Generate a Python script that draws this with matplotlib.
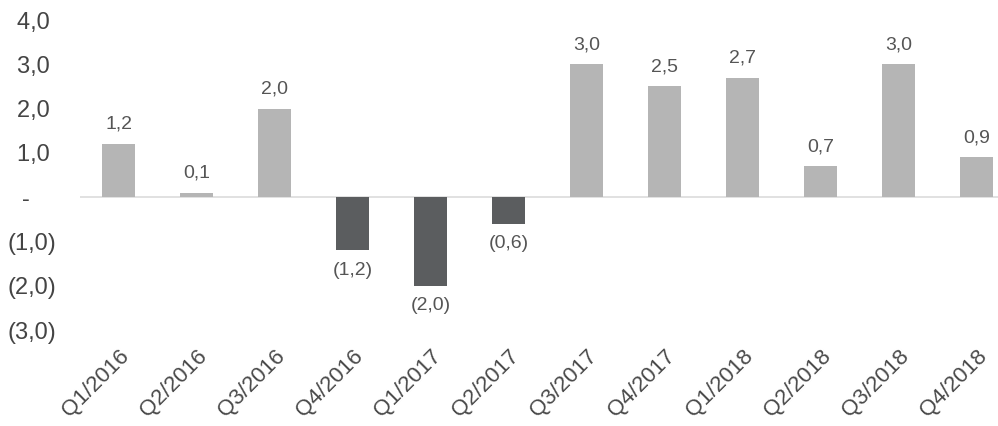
import numpy as np
import matplotlib.pyplot as plt
from matplotlib.ticker import FuncFormatter

plt.rcParams["font.family"] = ["Liberation Sans", "DejaVu Sans"]

quarters = ["Q1/2016", "Q2/2016", "Q3/2016", "Q4/2016",
            "Q1/2017", "Q2/2017", "Q3/2017", "Q4/2017",
            "Q1/2018", "Q2/2018", "Q3/2018", "Q4/2018"]
growth = [1.2, 0.1, 2.0, -1.2, -2.0, -0.6, 3.0, 2.5, 2.7, 0.7, 3.0, 0.9]
y_ticks = [-3, -2, -1, 0, 1, 2, 3, 4]


def fmt_num(v):
    if abs(v) < 1e-9:
        return "-"
    s = f"{abs(v):.1f}".replace(".", ",")
    return f"({s})" if v < 0 else s


def fmt_axis(v, pos):
    # accounting style: positives leave room for the closing paren
    if abs(v) < 1e-9:
        return "-    "
    return fmt_num(v) if v < 0 else fmt_num(v) + " "


fig = plt.figure(figsize=(9.98, 4.26), dpi=100)
ax = fig.add_axes([0.08, 0.225, 0.93, 0.728])

x = np.arange(len(quarters))
colors = ["#b5b5b5" if v >= 0 else "#5b5d5f" for v in growth]
bars = ax.bar(x, growth, width=0.42, color=colors, zorder=2)

ax.axhline(0, color="#dcdcdc", lw=1.2, zorder=1)

ax.bar_label(bars, labels=[fmt_num(v) for v in growth],
             padding=8, fontsize=14, color="#555555")

ax.set_xlim(-0.5, 11.4)
ax.set_ylim(-3, 4)
ax.set_yticks(y_ticks)
ax.yaxis.set_major_formatter(FuncFormatter(fmt_axis))
ax.set_xticks(x)
ax.set_xticklabels(quarters, rotation=45, ha="right", rotation_mode="anchor")

ax.tick_params(axis="y", length=0, pad=17, labelsize=17, labelcolor="#444444")
ax.tick_params(axis="x", length=0, pad=11, labelsize=16, labelcolor="#4a4a4a")
for side in ax.spines.values():
    side.set_visible(False)

fig.savefig("out.png", dpi=100)
